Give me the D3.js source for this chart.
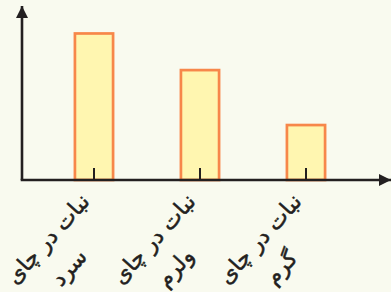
<!DOCTYPE html>
<html>
<head>
<meta charset="utf-8">
<script src="https://cdn.jsdelivr.net/npm/d3@7"></script>
<style>
  html, body { margin: 0; padding: 0; background: #f9faef; }
  svg { display: block; }
</style>
</head>
<body>
<svg width="391" height="292"></svg>
<script>
// داده ها
var categories = ["cold", "lukewarm", "hot"];
var labelLine1 = ["نبات در چای", "نبات در چای", "نبات در چای"];
var labelLine2 = ["سرد", "ولرم", "گرم"];
var values = [8, 6, 3];

var width = 391;
var height = 292;
var xAxisY = 180;
var yAxisX = 22;

var svg = d3.select("svg");

var x = d3.scaleBand()
    .domain(categories)
    .range([41, 359])
    .paddingInner(0.64)
    .paddingOuter(0.32);

var y = d3.scaleLinear()
    .domain([0, 9.5])
    .range([xAxisY, 6]);

// فلش ها
var defs = svg.append("defs");
defs.append("marker")
    .attr("id", "arrow")
    .attr("viewBox", "0 0 10 10")
    .attr("refX", 10)
    .attr("refY", 5)
    .attr("markerUnits", "userSpaceOnUse")
    .attr("markerWidth", 12)
    .attr("markerHeight", 12)
    .attr("orient", "auto")
    .append("path")
    .attr("d", "M0 0 L10 5 L0 10 Z")
    .attr("fill", "#231f20");

// میله ها
svg.selectAll("rect.bar")
    .data(values)
    .enter().append("rect")
    .attr("class", "bar")
    .attr("x", function(d, i) { return x(categories[i]); })
    .attr("y", function(d) { return y(d); })
    .attr("width", x.bandwidth())
    .attr("height", function(d) { return y(0) - y(d); })
    .attr("fill", "#fff6b0")
    .attr("stroke", "#f7874a")
    .attr("stroke-width", 2.7);

// تیک ها
var xAxis = svg.append("g")
    .attr("transform", "translate(0," + xAxisY + ")")
    .call(d3.axisBottom(x).tickSizeInner(-12).tickSizeOuter(0).tickFormat(""));
xAxis.select(".domain").remove();
xAxis.selectAll(".tick line")
    .attr("stroke", "#231f20")
    .attr("stroke-width", 2);

// محورها
svg.append("line")
    .attr("x1", yAxisX - 1.3).attr("y1", xAxisY)
    .attr("x2", 391).attr("y2", xAxisY)
    .attr("stroke", "#231f20")
    .attr("stroke-width", 2.6)
    .attr("marker-end", "url(#arrow)");

svg.append("line")
    .attr("x1", yAxisX).attr("y1", xAxisY)
    .attr("x2", yAxisX).attr("y2", 6)
    .attr("stroke", "#231f20")
    .attr("stroke-width", 2.6)
    .attr("marker-end", "url(#arrow)");

// برچسب ها
var labels = svg.selectAll("g.label")
    .data(categories)
    .enter().append("g")
    .attr("class", "label")
    .attr("transform", function(d) {
        return "translate(" + (x(d) + x.bandwidth() / 2 - 44) + ",241) rotate(-48)";
    });

labels.append("text")
    .attr("text-anchor", "middle")
    .attr("dy", "0.2em")
    .attr("font-family", "DejaVu Sans")
    .attr("font-size", 22)
    .attr("fill", "#231f20")
    .attr("stroke", "#231f20")
    .attr("stroke-width", 0.5)
    .attr("direction", "rtl")
    .text(function(d, i) { return labelLine1[i]; });

labels.append("text")
    .attr("text-anchor", "middle")
    .attr("x", -7)
    .attr("y", 35)
    .attr("dy", "0.2em")
    .attr("font-family", "DejaVu Sans")
    .attr("font-size", 22)
    .attr("fill", "#231f20")
    .attr("stroke", "#231f20")
    .attr("stroke-width", 0.5)
    .attr("direction", "rtl")
    .text(function(d, i) { return labelLine2[i]; });
</script>
</body>
</html>
